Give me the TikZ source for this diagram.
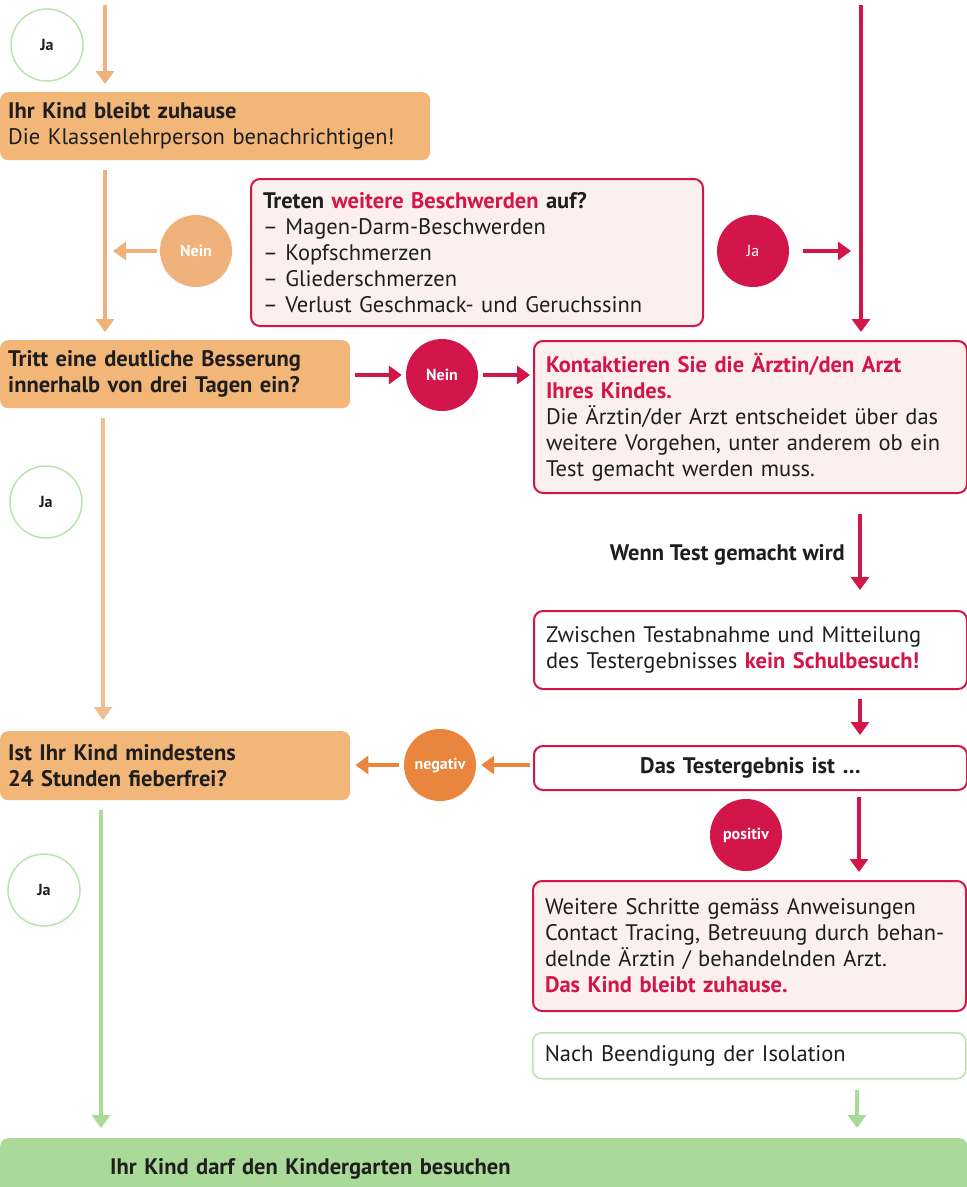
\documentclass[tikz,border=0pt]{standalone}
\usepackage{fontspec}
\setmainfont{PT Sans}
\usetikzlibrary{arrows.meta}
\definecolor{orbox}{HTML}{F2B679}
\definecolor{orline}{HTML}{F0B27A}
\definecolor{ordark}{HTML}{E9853D}
\definecolor{crim}{HTML}{D3164A}
\definecolor{pinkfill}{HTML}{FBF0EE}
\definecolor{grline}{HTML}{A9DB98}
\definecolor{grcirc}{HTML}{BCE3B0}
\definecolor{grbox}{HTML}{AADA98}
\definecolor{txt}{HTML}{1E1E1E}
\tikzset{
  base/.style={font=\fontsize{22.5}{26}\selectfont, text=txt},
  obox/.style={base, fill=orbox, rounded corners=8pt, anchor=north west, inner xsep=8pt, inner ysep=0pt, align=left},
  rbox/.style={base, draw=crim, line width=2pt, rounded corners=9pt, anchor=north west, inner xsep=12pt, inner ysep=0pt, align=left},
  gbox/.style={base, draw=grcirc, line width=1.5pt, rounded corners=9pt, anchor=north west, inner xsep=12pt, inner ysep=0pt, align=left},
  jacirc/.style={circle, draw=grcirc, line width=1.5pt, minimum size=72pt, inner sep=0pt, font=\fontsize{16}{18}\selectfont\bfseries, text=txt},
  fcirc/.style={circle, minimum size=72pt, inner sep=0pt, font=\fontsize{16}{18}\selectfont\bfseries, text=white},
  arr/.style={line width=4pt, -{Triangle[width=18pt,length=13pt]}},
  oarr/.style={arr, draw=orline},
  rarr/.style={arr, draw=crim},
  garr/.style={arr, draw=grline},
  darr/.style={arr, draw=ordark}
}
\begin{document}
\begin{tikzpicture}[x=1pt,y=-1pt]
\useasboundingbox (0,0) rectangle (967,1187);
\fill[white] (0,0) rectangle (967,1187);

% ---------- boxes ----------
\node[obox, minimum width=430pt, minimum height=68pt, text width=414pt] (b1) at (0,92)
  {\textbf{Ihr Kind bleibt zuhause}\\Die Klassenlehrperson benachrichtigen!};
\node[rbox, fill=pinkfill, minimum width=452pt, minimum height=147pt, text width=428pt] (treten) at (250,178)
  {\textbf{Treten {\color{crim}weitere Beschwerden} auf?}\\
   – Magen-Darm-Beschwerden\\
   – Kopfschmerzen\\
   – Gliederschmerzen\\
   – Verlust Geschmack- und Geruchssinn};
\node[obox, minimum width=350pt, minimum height=68pt, text width=334pt] (b2) at (0,340)
  {\textbf{Tritt eine deutliche Besserung}\\\textbf{innerhalb von drei Tagen ein?}};
\node[rbox, fill=pinkfill, minimum width=433pt, minimum height=152pt, text width=409pt] (kontakt) at (533,340)
  {{\bfseries\color{crim}Kontaktieren Sie die Ärztin/den Arzt}\\
   {\bfseries\color{crim}Ihres Kindes.}\\
   Die Ärztin/der Arzt entscheidet über das\\
   weitere Vorgehen, unter anderem ob ein\\
   Test gemacht werden muss.};
\node[base, font=\fontsize{22.5}{26}\selectfont\bfseries, anchor=east, inner sep=0pt] (wenn) at (845,555) {Wenn Test gemacht wird};
\node[rbox, fill=white, minimum width=433pt, minimum height=78pt, text width=409pt] (zwischen) at (533,610)
  {Zwischen Testabnahme und Mitteilung\\
   des Testergebnisses {\bfseries\color{crim}kein Schulbesuch!}};
\node[obox, minimum width=350pt, minimum height=69pt, text width=334pt] (b3) at (0,731)
  {\textbf{Ist Ihr Kind mindestens}\\\textbf{24 Stunden fieberfrei?}};
\node[rbox, fill=white, minimum width=433pt, minimum height=44pt, text width=409pt, align=center] (ergebnis) at (533,745)
  {\textbf{Das Testergebnis ist …}};
\node[rbox, fill=pinkfill, minimum width=433pt, minimum height=130pt, text width=409pt] (weitere) at (532,880)
  {Weitere Schritte gemäss Anweisungen\\
   Contact Tracing, Betreuung durch behan-\\
   delnde Ärztin / behandelnden Arzt.\\
   {\bfseries\color{crim}Das Kind bleibt zuhause.}};
\node[gbox, fill=white, minimum width=433pt, minimum height=46pt, text width=409pt] (nach) at (532,1032)
  {Nach Beendigung der Isolation};
\node[base, fill=grbox, rounded corners=8pt, anchor=north west, inner xsep=0pt, inner ysep=0pt,
      minimum width=967pt, minimum height=62pt, text width=967pt, align=left] (kiga) at (0,1138)
  {\hspace*{110pt}\textbf{Ihr Kind darf den Kindergarten besuchen}};

% ---------- circles ----------
\node[jacirc] (ja1) at (47,45) {Ja};
\node[fcirc, fill=orline] (nein1) at (196,251) {Nein};
\node[fcirc, fill=crim, font=\fontsize{16}{18}\selectfont] (ja2) at (753,251) {Ja};
\node[fcirc, fill=crim] (nein2) at (442,375) {Nein};
\node[jacirc] (ja3) at (46,502) {Ja};
\node[fcirc, fill=ordark] (neg) at (440,765) {negativ};
\node[fcirc, fill=crim] (pos) at (746,835) {positiv};
\node[jacirc] (ja4) at (44,890) {Ja};

% ---------- free ends ----------
\coordinate (top1) at (105,5);
\coordinate (top2) at (861,5);
\coordinate (neinend) at (113,251);
\coordinate (jaend) at (851,251);

% ---------- connectors ----------
\draw[oarr, shorten >=8pt] (top1) -- (top1 |- b1.north);
\draw[oarr, shorten <=10pt, shorten >=8pt] (b1.south -| top1) -- (b2.north -| top1);
\draw[oarr, shorten <=3pt] (nein1.west) -- (neinend);
\draw[rarr, shorten <=14pt] (ja2.east) -- (jaend);
\draw[rarr, shorten >=8pt] (top2) -- (kontakt.north -| top2);
\draw[rarr, shorten <=5pt, shorten >=4pt] (nein2.west -| b2.east) -- (nein2.west);
\draw[rarr, shorten <=5pt, shorten >=3pt] (nein2.east) -- (nein2.east -| kontakt.west);
\draw[oarr, draw=orline!85, shorten <=10pt, shorten >=11pt] ([xshift=103pt]b2.south west) -- ([xshift=103pt]b3.north west);
\draw[rarr, shorten <=20pt, shorten >=20pt] (kontakt.south -| 860,0) -- (zwischen.north -| 860,0);
\draw[rarr, shorten <=9pt, shorten >=10pt] (zwischen.south -| 860,0) -- (ergebnis.north -| 860,0);
\draw[darr, shorten <=3pt, shorten >=5pt] (neg.east -| ergebnis.west) -- (neg.east);
\draw[darr, shorten <=5pt, shorten >=5pt] (neg.west) -- (neg.west -| b3.east);
\draw[rarr, shorten <=6pt, shorten >=8pt] (ergebnis.south -| 859,0) -- (weitere.north -| 859,0);
\draw[garr, shorten <=10pt, shorten >=10pt] (nach.south -| 857,0) -- (kiga.north -| 857,0);
\draw[garr, shorten <=10pt, shorten >=10pt] ([xshift=101pt]b3.south west) -- ([xshift=101pt]kiga.north west);
\end{tikzpicture}
\end{document}
